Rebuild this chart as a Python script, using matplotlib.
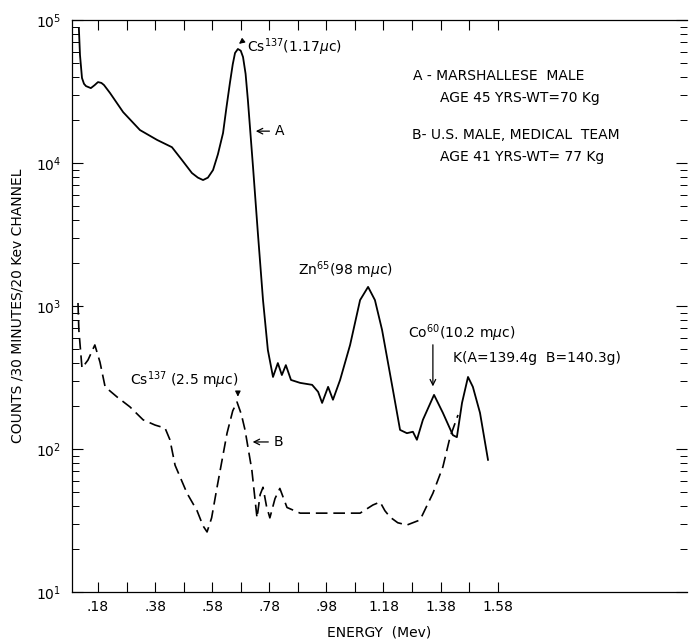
import matplotlib
matplotlib.use("Agg")
import matplotlib.pyplot as plt
import numpy as np

# curve A - Marshallese male (solid)
energy_a = [0.113, 0.117, 0.124, 0.131, 0.138, 0.155, 0.168, 0.180, 0.192, 0.201,
            0.222, 0.268, 0.327, 0.387, 0.439, 0.474, 0.509, 0.530, 0.548, 0.565,
            0.583, 0.600, 0.618, 0.630, 0.642, 0.652, 0.660, 0.670, 0.680, 0.688,
            0.697, 0.705, 0.723, 0.740, 0.758, 0.775, 0.793, 0.810, 0.824, 0.838,
            0.856, 0.888, 0.930, 0.951, 0.965, 0.986, 1.003, 1.028, 1.063, 1.098,
            1.126, 1.150, 1.175, 1.213, 1.238, 1.262, 1.283, 1.297, 1.318, 1.357,
            1.388, 1.423, 1.437, 1.455, 1.476, 1.493, 1.518, 1.546]
counts_a = [88000, 56900, 39300, 35800, 34500, 33400, 35000, 36800, 36300, 35100,
            30900, 22700, 17000, 14500, 12900, 10500, 8510, 7900, 7600, 7900,
            8930, 11500, 16200, 24500, 36200, 49000, 58800, 62700, 61000, 55100,
            42000, 27600, 9380, 3240, 1100, 492, 319, 399, 329, 386,
            304, 290, 281, 251, 210, 272, 221, 304, 534, 1100,
            1360, 1100, 680, 259, 136, 129, 132, 116, 160, 239,
            179, 125, 121, 210, 319, 272, 179, 84]

# curve B - U.S. male, medical team (dashed)
energy_b = [0.110, 0.113, 0.124, 0.145, 0.169, 0.187, 0.205, 0.247, 0.292, 0.338,
            0.380, 0.415, 0.432, 0.450, 0.492, 0.527, 0.548, 0.562, 0.578, 0.597,
            0.632, 0.652, 0.667, 0.682, 0.695, 0.719, 0.737, 0.748, 0.758, 0.770,
            0.782, 0.800, 0.817, 0.842, 0.888, 1.028, 1.098, 1.143, 1.168, 1.185,
            1.203, 1.230, 1.262, 1.308, 1.353, 1.388, 1.413, 1.441]
counts_b = [1050, 680, 368, 419, 534, 405, 272, 231, 197, 160,
            147, 140, 116, 77, 49, 37, 29, 26.3, 33, 54,
            129, 185, 213, 175, 136, 71, 33, 48, 54, 40,
            33, 45, 53, 39, 35.6, 35.6, 35.6, 40.6, 42.6, 37,
            33.4, 30.5, 29.4, 31.9, 49, 75, 121, 173]

xtick_pos = [0.18, 0.38, 0.58, 0.78, 0.98, 1.18, 1.38, 1.58]
xtick_labels = [".18", ".38", ".58", ".78", ".98", "1.18", "1.38", "1.58"]
xminor_pos = [0.28, 0.48, 0.68, 0.88, 1.08, 1.28, 1.48]

plt.rcParams['font.family'] = ['DejaVu Sans']
fig = plt.figure(figsize=(6.89, 6.44), dpi=100)
ax = fig.add_axes([72 / 689, 1 - 592 / 644, 615 / 689, 572 / 644])

ax.plot(energy_a, counts_a, color='black', lw=1.3, solid_joinstyle='round')
ax.plot(energy_b, counts_b, color='black', lw=1.2, linestyle=(0, (7, 3.5)))

ax.set_yscale('log')
ax.set_xlim(0.089, 2.243)
ax.set_ylim(10, 1e5)

ax.set_xticks(xtick_pos)
ax.set_xticklabels(xtick_labels, fontsize=10)
ax.set_xticks(xminor_pos, minor=True)
ax.set_yticks([10, 100, 1000, 1e4, 1e5])
ax.set_yticklabels(["10$^1$", "10$^2$", "10$^3$", "10$^4$", "10$^5$"], fontsize=10)

ax.tick_params(axis='x', which='both', direction='in', length=7, width=0.8,
               top=True, pad=6)
ax.tick_params(axis='y', which='major', direction='in', length=8, width=0.8,
               right=True, pad=8)
ax.tick_params(axis='y', which='minor', direction='in', length=5, width=0.7,
               right=True)
ax.spines['right'].set_visible(False)
for s in ['left', 'top', 'bottom']:
    ax.spines[s].set_linewidth(0.9)

ax.set_xlabel("ENERGY  (Mev)", fontsize=10, labelpad=8)
ax.set_ylabel("COUNTS /30 MINUTES/20 Kev CHANNEL", fontsize=10, labelpad=8)

# peak annotations
ax.text(0.702, 64700, "Cs$^{137}$(1.17$\\mu$c)", fontsize=10, va='center')
ax.annotate("", xy=(0.667, 66000), xytext=(0.700, 70000),
            arrowprops=dict(arrowstyle='-|>', color='black', lw=0.8,
                            connectionstyle="arc3,rad=0.3", mutation_scale=8))
ax.annotate("A", xy=(0.723, 16700), xytext=(0.800, 16700), fontsize=10,
            va='center', arrowprops=dict(arrowstyle='->', color='black', lw=0.9))
ax.text(0.880, 1790, "Zn$^{65}$(98 m$\\mu$c)", fontsize=10, va='center')
ax.text(1.266, 647, "Co$^{60}$(10.2 m$\\mu$c)", fontsize=10, va='center')
ax.annotate("", xy=(1.353, 262), xytext=(1.353, 560),
            arrowprops=dict(arrowstyle='->', color='black', lw=0.9))
ax.text(1.423, 433, "K(A=139.4g  B=140.3g)", fontsize=10, va='center')
ax.text(0.292, 304, "Cs$^{137}$ (2.5 m$\\mu$c)", fontsize=10, va='center')
ax.annotate("", xy=(0.670, 222), xytext=(0.670, 262),
            arrowprops=dict(arrowstyle='-|>', color='black', lw=0.8, mutation_scale=8))
ax.annotate("B", xy=(0.712, 112), xytext=(0.796, 112), fontsize=10,
            va='center', arrowprops=dict(arrowstyle='->', color='black', lw=0.9))

# subject key
ax.text(1.283, 40600, "A - MARSHALLESE  MALE", fontsize=10, va='center')
ax.text(1.378, 28500, "AGE 45 YRS-WT=70 Kg", fontsize=10, va='center')
ax.text(1.280, 15700, "B- U.S. MALE, MEDICAL  TEAM", fontsize=10, va='center')
ax.text(1.378, 11000, "AGE 41 YRS-WT= 77 Kg", fontsize=10, va='center')

fig.savefig("out.png", dpi=100)
